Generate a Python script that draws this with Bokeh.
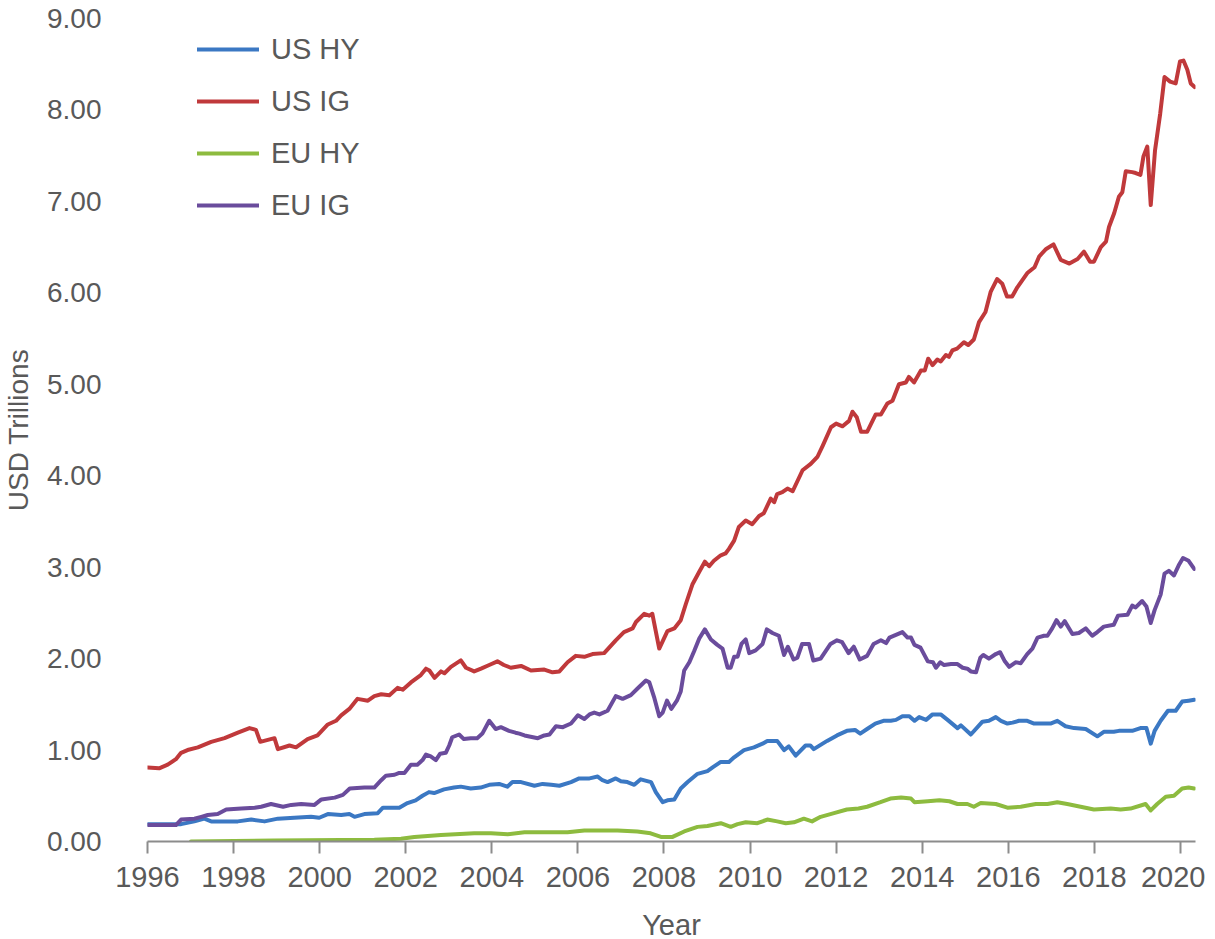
from bokeh.plotting import figure
from bokeh.models import Range1d, FixedTicker, NumeralTickFormatter, Legend, LegendItem
from bokeh.embed import file_html
from bokeh.resources import INLINE

# ---------------- data ----------------
year_ticks = [1996, 1998, 2000, 2002, 2004, 2006, 2008, 2010, 2012, 2014, 2016, 2018, 2020]
value_ticks = [0, 1, 2, 3, 4, 5, 6, 7, 8, 9]

us_hy_t = [
    1996.00, 1996.78, 1997.09, 1997.32, 1997.48, 1997.79, 1998.10, 1998.41, 1998.72, 1999.03,
    1999.41, 1999.80, 1999.99, 2000.19, 2000.50, 2000.69, 2000.81, 2001.04, 2001.35, 2001.47,
    2001.66, 2001.85, 2002.04, 2002.23, 2002.39, 2002.54, 2002.66, 2002.89, 2003.12, 2003.28,
    2003.51, 2003.74, 2003.94, 2004.17, 2004.36, 2004.48, 2004.68, 2004.99, 2005.18, 2005.38,
    2005.57, 2005.84, 2006.03, 2006.27, 2006.46, 2006.57, 2006.69, 2006.88, 2007.00, 2007.15,
    2007.31, 2007.46, 2007.70, 2007.81, 2007.97, 2008.08, 2008.24, 2008.39, 2008.55, 2008.78,
    2009.01, 2009.13, 2009.32, 2009.51, 2009.63, 2009.86, 2010.09, 2010.29, 2010.40, 2010.63,
    2010.79, 2010.90, 2011.06, 2011.29, 2011.40, 2011.48, 2011.79, 2012.02, 2012.25, 2012.44,
    2012.56, 2012.72, 2012.91, 2013.10, 2013.27, 2013.39, 2013.54, 2013.70, 2013.82, 2013.93,
    2014.09, 2014.24, 2014.43, 2014.59, 2014.82, 2014.90, 2015.13, 2015.40, 2015.55, 2015.71,
    2015.83, 2015.98, 2016.10, 2016.25, 2016.44, 2016.60, 2016.98, 2017.14, 2017.33, 2017.53,
    2017.80, 2018.07, 2018.22, 2018.45, 2018.57, 2018.88, 2019.07, 2019.21, 2019.31, 2019.40,
    2019.54, 2019.71, 2019.89, 2020.04, 2020.19, 2020.32,
]
us_hy_v = [
    0.19, 0.19, 0.22, 0.25, 0.22, 0.22, 0.22, 0.24, 0.22, 0.25,
    0.26, 0.27, 0.26, 0.30, 0.29, 0.30, 0.27, 0.30, 0.31, 0.37,
    0.37, 0.37, 0.42, 0.45, 0.50, 0.54, 0.53, 0.57, 0.59, 0.60,
    0.58, 0.59, 0.62, 0.63, 0.60, 0.65, 0.65, 0.61, 0.63, 0.62,
    0.61, 0.65, 0.69, 0.69, 0.71, 0.67, 0.65, 0.69, 0.66, 0.65,
    0.62, 0.68, 0.65, 0.54, 0.43, 0.45, 0.46, 0.58, 0.65, 0.74,
    0.77, 0.81, 0.87, 0.87, 0.92, 1.00, 1.03, 1.07, 1.10, 1.10,
    1.00, 1.04, 0.94, 1.05, 1.05, 1.01, 1.10, 1.16, 1.21, 1.22,
    1.18, 1.23, 1.29, 1.32, 1.32, 1.33, 1.37, 1.37, 1.32, 1.36,
    1.33, 1.39, 1.39, 1.33, 1.24, 1.27, 1.17, 1.31, 1.32, 1.36,
    1.32, 1.29, 1.30, 1.32, 1.32, 1.29, 1.29, 1.32, 1.26, 1.24,
    1.23, 1.15, 1.20, 1.20, 1.21, 1.21, 1.24, 1.24, 1.07, 1.21,
    1.32, 1.43, 1.43, 1.53, 1.54, 1.55,
]

us_ig_t = [
    1996.00, 1996.27, 1996.47, 1996.66, 1996.78, 1996.93, 1997.17, 1997.48, 1997.79, 1998.10,
    1998.37, 1998.52, 1998.62, 1998.95, 1999.03, 1999.30, 1999.45, 1999.72, 1999.95, 2000.19,
    2000.38, 2000.50, 2000.69, 2000.88, 2001.12, 2001.27, 2001.43, 2001.62, 2001.81, 2001.93,
    2002.12, 2002.35, 2002.47, 2002.55, 2002.67, 2002.82, 2002.90, 2003.05, 2003.28, 2003.40,
    2003.59, 2003.75, 2003.94, 2004.13, 2004.28, 2004.44, 2004.68, 2004.91, 2005.22, 2005.41,
    2005.57, 2005.76, 2005.95, 2006.15, 2006.34, 2006.61, 2006.88, 2007.07, 2007.27, 2007.35,
    2007.54, 2007.66, 2007.73, 2007.89, 2008.08, 2008.24, 2008.39, 2008.51, 2008.66, 2008.82,
    2008.95, 2009.05, 2009.16, 2009.32, 2009.43, 2009.51, 2009.63, 2009.74, 2009.90, 2010.05,
    2010.21, 2010.32, 2010.48, 2010.56, 2010.63, 2010.75, 2010.87, 2010.99, 2011.22, 2011.41,
    2011.57, 2011.69, 2011.88, 2012.00, 2012.15, 2012.30, 2012.38, 2012.48, 2012.58, 2012.72,
    2012.92, 2013.04, 2013.19, 2013.31, 2013.46, 2013.62, 2013.69, 2013.81, 2013.97, 2014.06,
    2014.14, 2014.24, 2014.35, 2014.43, 2014.55, 2014.62, 2014.70, 2014.81, 2014.97, 2015.07,
    2015.20, 2015.32, 2015.47, 2015.59, 2015.74, 2015.86, 2015.97, 2016.09, 2016.21, 2016.45,
    2016.61, 2016.72, 2016.88, 2017.05, 2017.22, 2017.42, 2017.61, 2017.76, 2017.90, 2017.99,
    2018.15, 2018.27, 2018.34, 2018.46, 2018.57, 2018.65, 2018.73, 2018.88, 2018.96, 2019.07,
    2019.14, 2019.23, 2019.31, 2019.41, 2019.53, 2019.63, 2019.76, 2019.89, 2019.99, 2020.07,
    2020.16, 2020.24, 2020.33,
]
us_ig_v = [
    0.81, 0.80, 0.84, 0.90, 0.97, 1.00, 1.03, 1.09, 1.13, 1.19,
    1.24, 1.22, 1.09, 1.13, 1.01, 1.05, 1.03, 1.12, 1.16, 1.28,
    1.32, 1.38, 1.45, 1.56, 1.54, 1.59, 1.61, 1.60, 1.68, 1.66,
    1.74, 1.82, 1.89, 1.87, 1.79, 1.86, 1.84, 1.91, 1.98, 1.90,
    1.86, 1.89, 1.93, 1.97, 1.93, 1.90, 1.92, 1.87, 1.88, 1.85,
    1.86, 1.96, 2.03, 2.02, 2.05, 2.06, 2.20, 2.29, 2.33, 2.40,
    2.49, 2.47, 2.49, 2.11, 2.30, 2.33, 2.42, 2.60, 2.81, 2.95,
    3.06, 3.01, 3.07, 3.13, 3.15, 3.20, 3.29, 3.44, 3.51, 3.47,
    3.56, 3.59, 3.75, 3.71, 3.80, 3.82, 3.86, 3.83, 4.06, 4.13,
    4.21, 4.33, 4.53, 4.57, 4.54, 4.60, 4.70, 4.64, 4.48, 4.48,
    4.67, 4.67, 4.79, 4.82, 5.00, 5.02, 5.08, 5.02, 5.15, 5.15,
    5.28, 5.21, 5.27, 5.25, 5.32, 5.30, 5.37, 5.39, 5.46, 5.43,
    5.49, 5.68, 5.79, 6.01, 6.15, 6.10, 5.96, 5.96, 6.06, 6.22,
    6.28, 6.40, 6.48, 6.53, 6.36, 6.32, 6.37, 6.45, 6.34, 6.34,
    6.50, 6.56, 6.72, 6.87, 7.05, 7.10, 7.33, 7.32, 7.31, 7.29,
    7.49, 7.60, 6.96, 7.56, 7.96, 8.36, 8.31, 8.29, 8.53, 8.54,
    8.44, 8.29, 8.25,
]

eu_hy_t = [
    1997.01, 1998.94, 2001.27, 2001.89, 2002.20, 2002.82, 2003.59, 2003.98, 2004.37, 2004.76,
    2005.22, 2005.76, 2006.15, 2006.53, 2006.92, 2007.38, 2007.69, 2007.93, 2008.20, 2008.47,
    2008.78, 2009.01, 2009.32, 2009.55, 2009.71, 2009.90, 2010.17, 2010.40, 2010.63, 2010.83,
    2011.02, 2011.25, 2011.44, 2011.64, 2011.95, 2012.25, 2012.52, 2012.72, 2013.03, 2013.26,
    2013.51, 2013.74, 2013.82, 2014.13, 2014.40, 2014.63, 2014.82, 2015.05, 2015.20, 2015.36,
    2015.71, 2015.98, 2016.29, 2016.64, 2016.91, 2017.14, 2017.37, 2017.68, 2017.99, 2018.38,
    2018.61, 2018.84, 2019.19, 2019.31, 2019.46, 2019.66, 2019.85, 2020.04, 2020.19, 2020.32,
]
eu_hy_v = [
    0.00, 0.01, 0.02, 0.03, 0.05, 0.07, 0.09, 0.09, 0.08, 0.10,
    0.10, 0.10, 0.12, 0.12, 0.12, 0.11, 0.09, 0.05, 0.05, 0.11,
    0.16, 0.17, 0.20, 0.16, 0.19, 0.21, 0.20, 0.24, 0.22, 0.20,
    0.21, 0.25, 0.22, 0.27, 0.31, 0.35, 0.36, 0.38, 0.43, 0.47,
    0.48, 0.47, 0.43, 0.44, 0.45, 0.44, 0.41, 0.41, 0.38, 0.42,
    0.41, 0.37, 0.38, 0.41, 0.41, 0.43, 0.41, 0.38, 0.35, 0.36,
    0.35, 0.36, 0.41, 0.34, 0.41, 0.49, 0.50, 0.58, 0.59, 0.58,
]

eu_ig_t = [
    1996.00, 1996.66, 1996.78, 1997.09, 1997.25, 1997.40, 1997.63, 1997.83, 1998.18, 1998.49,
    1998.64, 1998.87, 1999.15, 1999.34, 1999.57, 1999.88, 2000.04, 2000.35, 2000.54, 2000.70,
    2001.04, 2001.27, 2001.43, 2001.54, 2001.74, 2001.85, 2001.97, 2002.12, 2002.27, 2002.39,
    2002.47, 2002.58, 2002.70, 2002.80, 2002.93, 2003.01, 2003.08, 2003.24, 2003.35, 2003.51,
    2003.66, 2003.78, 2003.94, 2004.09, 2004.21, 2004.40, 2004.55, 2004.64, 2004.76, 2005.07,
    2005.22, 2005.34, 2005.49, 2005.65, 2005.84, 2006.00, 2006.15, 2006.27, 2006.38, 2006.50,
    2006.69, 2006.88, 2007.04, 2007.23, 2007.38, 2007.58, 2007.66, 2007.77, 2007.89, 2007.97,
    2008.07, 2008.17, 2008.30, 2008.39, 2008.47, 2008.59, 2008.70, 2008.82, 2008.95, 2009.09,
    2009.24, 2009.36, 2009.48, 2009.55, 2009.63, 2009.71, 2009.80, 2009.90, 2009.98, 2010.13,
    2010.29, 2010.39, 2010.52, 2010.67, 2010.79, 2010.88, 2011.01, 2011.10, 2011.21, 2011.37,
    2011.47, 2011.64, 2011.87, 2012.02, 2012.14, 2012.29, 2012.41, 2012.55, 2012.72, 2012.87,
    2013.04, 2013.16, 2013.24, 2013.39, 2013.54, 2013.66, 2013.74, 2013.82, 2013.96, 2014.13,
    2014.25, 2014.32, 2014.42, 2014.51, 2014.67, 2014.82, 2014.94, 2015.05, 2015.13, 2015.25,
    2015.35, 2015.42, 2015.55, 2015.71, 2015.81, 2015.92, 2016.02, 2016.17, 2016.29, 2016.44,
    2016.56, 2016.68, 2016.83, 2016.91, 2017.02, 2017.12, 2017.22, 2017.31, 2017.49, 2017.64,
    2017.80, 2017.95, 2018.07, 2018.22, 2018.45, 2018.55, 2018.77, 2018.88, 2018.96, 2019.11,
    2019.21, 2019.31, 2019.40, 2019.54, 2019.63, 2019.73, 2019.85, 2019.96, 2020.06, 2020.19,
    2020.32,
]
eu_ig_v = [
    0.18, 0.18, 0.24, 0.25, 0.27, 0.29, 0.30, 0.35, 0.36, 0.37,
    0.38, 0.41, 0.38, 0.40, 0.41, 0.40, 0.46, 0.48, 0.51, 0.58,
    0.59, 0.59, 0.67, 0.72, 0.73, 0.75, 0.75, 0.84, 0.84, 0.89,
    0.95, 0.93, 0.89, 0.96, 0.97, 1.05, 1.14, 1.17, 1.12, 1.13,
    1.13, 1.18, 1.32, 1.23, 1.25, 1.21, 1.19, 1.18, 1.16, 1.13,
    1.16, 1.17, 1.26, 1.25, 1.29, 1.38, 1.34, 1.39, 1.41, 1.39,
    1.43, 1.59, 1.56, 1.60, 1.67, 1.76, 1.74, 1.58, 1.37, 1.41,
    1.54, 1.45, 1.54, 1.64, 1.87, 1.96, 2.08, 2.22, 2.32, 2.21,
    2.15, 2.11, 1.90, 1.90, 2.02, 2.02, 2.16, 2.21, 2.06, 2.09,
    2.16, 2.32, 2.28, 2.25, 2.04, 2.13, 1.99, 2.01, 2.16, 2.16,
    1.98, 2.00, 2.16, 2.20, 2.18, 2.06, 2.13, 1.99, 2.03, 2.16,
    2.20, 2.17, 2.23, 2.26, 2.29, 2.23, 2.23, 2.15, 2.12, 1.97,
    1.96, 1.90, 1.96, 1.93, 1.94, 1.94, 1.90, 1.89, 1.86, 1.85,
    2.01, 2.04, 2.00, 2.05, 2.07, 1.97, 1.91, 1.96, 1.95, 2.05,
    2.11, 2.23, 2.25, 2.25, 2.33, 2.42, 2.35, 2.41, 2.27, 2.28,
    2.33, 2.25, 2.29, 2.35, 2.37, 2.47, 2.48, 2.58, 2.56, 2.63,
    2.57, 2.39, 2.53, 2.70, 2.93, 2.96, 2.91, 3.02, 3.10, 3.07,
    2.98,
]

series_names = ["US HY", "US IG", "EU HY", "EU IG"]

# ---------------- styling ----------------
FONT = "Liberation Sans"
TXT = "#595959"
AXIS = "#8c8c8c"
colors = ["#3b78c3", "#c0393b", "#8dbb3f", "#6a4c9c"]

p = figure(
    frame_width=1048, frame_height=823,
    x_range=Range1d(1996, 2020.35), y_range=Range1d(0, 9.0),
    output_backend="svg", toolbar_location=None,
    min_border_left=147, min_border_right=10, min_border_top=18, min_border_bottom=0,
    background_fill_color="white", border_fill_color="white",
)
p.outline_line_color = None
p.xgrid.visible = False
p.ygrid.visible = False

xa = p.xaxis[0]
xa.ticker = FixedTicker(ticks=year_ticks)
xa.axis_line_color = AXIS
xa.axis_line_width = 2
xa.major_tick_line_color = AXIS
xa.major_tick_line_width = 2
xa.major_tick_in = 0
xa.major_tick_out = 12
xa.minor_tick_line_color = None
xa.major_label_text_font = FONT
xa.major_label_text_font_size = "29px"
xa.major_label_text_color = TXT
xa.major_label_standoff = 13
xa.axis_label = "Year"
xa.axis_label_text_font = FONT
xa.axis_label_text_font_size = "29px"
xa.axis_label_text_font_style = "normal"
xa.axis_label_text_color = TXT
xa.axis_label_standoff = 19

ya = p.yaxis[0]
ya.ticker = FixedTicker(ticks=value_ticks)
ya.formatter = NumeralTickFormatter(format="0.00")
ya.axis_line_color = None
ya.major_tick_line_color = None
ya.minor_tick_line_color = None
ya.major_tick_in = 0
ya.major_tick_out = 0
ya.major_label_text_font = FONT
ya.major_label_text_font_size = "28px"
ya.major_label_text_color = TXT
ya.major_label_standoff = 46
ya.axis_label = "USD Trillions"
ya.axis_label_text_font = FONT
ya.axis_label_text_font_size = "28px"
ya.axis_label_text_font_style = "normal"
ya.axis_label_text_color = TXT
ya.axis_label_standoff = 10

renderers = []
for (t, v), c in zip([(us_hy_t, us_hy_v), (us_ig_t, us_ig_v), (eu_hy_t, eu_hy_v), (eu_ig_t, eu_ig_v)], colors):
    r = p.line(t, v, line_color=c, line_width=4, line_join="round", line_cap="round")
    renderers.append(r)

legend = Legend(
    items=[LegendItem(label=n, renderers=[r]) for n, r in zip(series_names, renderers)],
    location=(50, 619), orientation="vertical",
    glyph_width=62, glyph_height=34, label_height=34, spacing=18,
    padding=0, margin=0, label_standoff=12,
    label_text_font=FONT, label_text_font_size="29px", label_text_color=TXT,
    border_line_color=None, background_fill_alpha=0,
)
p.add_layout(legend)

open("out.html", "w").write(file_html(p, INLINE))
